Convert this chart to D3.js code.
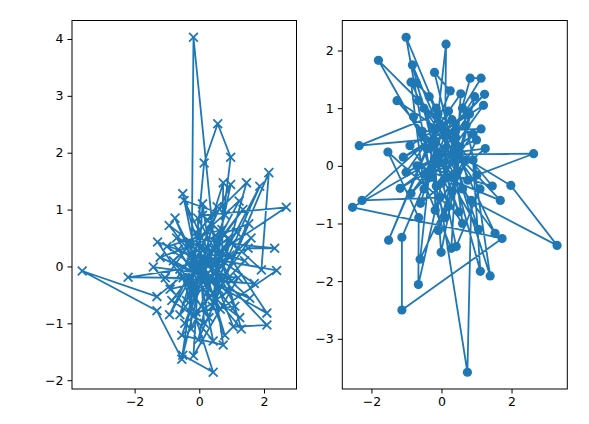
<!DOCTYPE html>
<html><head><meta charset="utf-8">
<script src="https://cdn.jsdelivr.net/npm/d3@7"></script>
<style>body{margin:0;background:#fff}svg{display:block}</style>
</head><body>
<svg id="c" width="589" height="424"></svg>
<script>
// Left panel: 'x-' markers
const leftX = [0.3,-0.93,0.6,-0.18,-0.25,0.9,-1.31,-3.62,-1.31,-0.54,-0.2,0.15,0.57,0.97,0.4,2.15,1.92,0.1,2.69,1.0,2.33,1.51,-0.5,-2.2,-0.6,0.43,-0.51,0.2,2.09,1.05,-0.1,1.46,0.3,-1.29,0.7,0.74,-0.4,1.23,-0.8,2.09,0.5,-0.92,0.97,-0.03,1.53,-1.21,1.56,-0.3,0.79,-0.51,0.43,-1.42,1.2,-0.18,0.1,0.74,-0.54,0.8,-0.47,1.1,-0.1,1.4,-0.7,0.25,1.87,0.6,-0.9,0.35,1.3,-0.35,0.95,-0.15,0.55,-1.05,1.7,0.05,-0.6,1.15,0.0,-0.75,0.65,2.39,-0.25,0.85,-0.45,0.45,1.35,-0.85,0.15,-0.05,1.0,-0.65,0.3,1.6,-0.2,0.7,-1.0,0.2,1.25,-0.35];
const leftY = [0.2,0.72,-0.4,4.03,-1.1,0.5,-0.53,-0.08,-0.78,-1.63,-0.3,1.82,2.51,1.92,-0.7,1.65,-0.06,0.9,1.04,0.4,0.32,0.32,-0.2,-0.19,-0.05,-1.86,-1.56,0.1,-1.03,-1.06,0.6,1.47,-0.9,0.43,0.0,1.47,-0.6,1.15,0.1,-0.82,0.55,-0.85,1.44,-1.29,0.75,0.16,-0.56,0.4,-1.21,1.28,-1.31,-0.01,-0.2,-1.57,1.1,-1.38,-1.21,0.9,1.16,-0.7,-0.8,0.1,0.5,-0.35,1.41,-0.2,-0.4,0.75,-1.1,0.05,0.2,-0.55,1.05,-0.2,-0.3,0.35,-0.85,0.6,-0.15,0.85,-0.75,-0.07,0.2,-0.45,-1.0,0.3,1.0,-0.6,-1.0,0.85,-0.25,0.3,-0.55,0.5,-0.45,0.65,0.35,-0.15,-0.9,-0.2];
// Right panel: 'o-' markers
const rightX = [0.1,0.13,-0.3,-1.01,-0.1,-2.35,0.4,-1.8,-0.2,-2.54,1.73,-1.13,-1.13,0.3,-2.27,-0.05,0.74,0.85,3.3,1.98,0.5,2.63,1.01,0.6,1.13,0.82,0.0,-0.66,-0.65,-1.53,0.2,-0.83,0.45,-1.27,0.15,1.23,-0.4,-1.51,0.25,-0.2,0.6,1.39,0.9,1.11,0.35,-0.87,-0.5,1.2,-1.09,0.7,-0.01,-0.25,1.68,-0.7,0.28,0.55,-1.01,1.0,-0.61,-0.15,1.06,-0.55,1.13,-1.18,0.05,1.53,-0.35,-0.72,0.3,-0.09,0.8,-0.87,0.45,-0.66,1.1,0.42,-0.2,-0.18,0.65,-0.45,0.95,0.1,-0.8,0.5,-0.1,1.25,-0.6,0.2,0.75,-0.3,1.45,0.0,-0.9,0.6,0.35,-0.15,0.9,-0.5,0.15,0.4];
const rightY = [0.3,2.11,-0.2,2.23,0.9,0.35,0.5,1.83,0.1,-0.72,-1.26,-2.5,-1.24,0.8,-0.6,-0.55,-3.58,-0.6,-1.38,-0.34,0.2,0.21,-0.16,1.0,1.52,1.52,-0.3,-2.06,-0.9,0.24,-0.7,1.75,-0.1,1.13,0.55,1.24,0.3,-1.29,1.3,1.62,-0.4,-1.91,0.1,-1.83,-0.15,1.45,-0.4,1.05,0.15,0.7,-1.5,0.65,-0.6,0.0,-1.43,1.25,-0.11,0.45,-1.62,1.0,-1.1,0.6,0.64,-0.39,0.05,-1.17,1.2,1.44,-0.45,-1.12,0.9,-0.48,0.35,1.13,-0.4,-1.4,0.4,-0.77,0.1,-0.15,1.2,-0.9,0.85,-0.8,0.2,0.3,-0.65,0.95,-0.25,-0.05,-0.35,0.7,0.35,-1.0,0.15,-0.35,0.55,1.0,-0.2,0.6];
const leftXTicks = [-2,0,2];
const leftYTicks = [-2,-1,0,1,2,3,4];
const rightXTicks = [-2,0,2];
const rightYTicks = [-3,-2,-1,0,1,2];

const svg = d3.select('#c');
const color = '#1f77b4';
const fmt = d => (d < 0 ? '\u2212' + Math.abs(d) : String(d));

function pad(ext){ const s = ext[1]-ext[0]; return [ext[0]-0.05*s, ext[1]+0.05*s]; }

function panel(xs, ys, box, xt, yt, marker){
  const x = d3.scaleLinear().domain(pad(d3.extent(xs))).range([box.x0, box.x1]);
  const y = d3.scaleLinear().domain(pad(d3.extent(ys))).range([box.y1, box.y0]);
  const g = svg.append('g');
  const pts = xs.map((v,i)=>[v, ys[i]]);
  g.append('path').attr('d', d3.line().x(d=>x(d[0])).y(d=>y(d[1]))(pts))
    .attr('fill','none').attr('stroke',color).attr('stroke-width',1.8).attr('stroke-linejoin','round').attr('stroke-linecap','square');
  if (marker === 'x') {
    const s = 4.4;
    g.selectAll('path.m').data(pts).join('path').attr('class','m')
      .attr('d', d=>{const cx=x(d[0]), cy=y(d[1]); return `M${cx-s},${cy-s}L${cx+s},${cy+s}M${cx-s},${cy+s}L${cx+s},${cy-s}`;})
      .attr('stroke',color).attr('stroke-width',1.8).attr('fill','none');
  } else {
    g.selectAll('circle').data(pts).join('circle')
      .attr('cx', d=>x(d[0])).attr('cy', d=>y(d[1])).attr('r',4.6).attr('fill',color);
  }
  const ax = svg.append('g').attr('transform',`translate(0,${box.y1})`)
    .call(d3.axisBottom(x).tickValues(xt).tickFormat(fmt).tickSize(4.5).tickPadding(4));
  const ay = svg.append('g').attr('transform',`translate(${box.x0},0)`)
    .call(d3.axisLeft(y).tickValues(yt).tickFormat(fmt).tickSize(4.5).tickPadding(4));
  [ax, ay].forEach(a=>{
    a.select('.domain').remove();
    a.selectAll('text').attr('font-family','DejaVu Sans').attr('font-size','12.5px').attr('fill','#000');
    a.selectAll('line').attr('stroke','#000').attr('stroke-width',1);
  });
  svg.append('rect').attr('x',box.x0).attr('y',box.y0).attr('width',box.x1-box.x0).attr('height',box.y1-box.y0)
    .attr('fill','none').attr('stroke','#000').attr('stroke-width',1);
}

panel(leftX, leftY, {x0:72, x1:296.5, y0:20.5, y1:389}, leftXTicks, leftYTicks, 'x');
panel(rightX, rightY, {x0:342.3, x1:567.3, y0:20.5, y1:389}, rightXTicks, rightYTicks, 'o');
</script>
</body></html>
